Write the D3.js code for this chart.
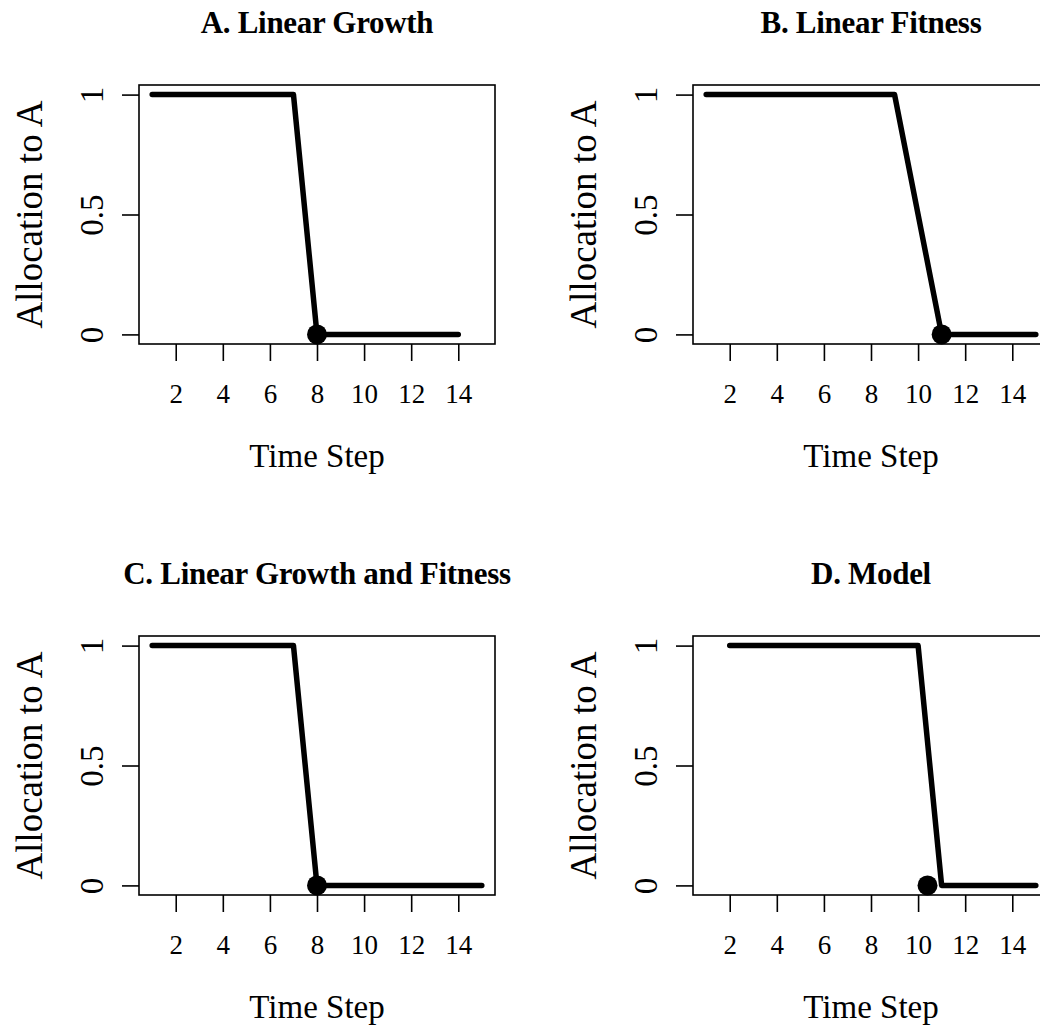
<!DOCTYPE html>
<html>
<head>
<meta charset="utf-8">
<script src="https://cdn.jsdelivr.net/npm/d3@7"></script>
<style>
  html, body { margin: 0; padding: 0; background: #fff; }
  svg { display: block; }
  text { font-family: "Liberation Serif", "Times New Roman", serif; fill: #000; }
</style>
</head>
<body>
<svg id="chart" width="1040" height="1034"></svg>
<script>
// ---- data ----
const titles = ["A. Linear Growth", "B. Linear Fitness", "C. Linear Growth and Fitness", "D. Model"];
const stepsA = [1,2,3,4,5,6,7,8,9,10,11,12,13,14];
const allocA = [1,1,1,1,1,1,1,0,0,0,0,0,0,0];
const stepsB = [1,2,3,4,5,6,7,8,9,10,11,12,13,14,15];
const allocB = [1,1,1,1,1,1,1,1,1,0.5,0,0,0,0,0];
const stepsC = [1,2,3,4,5,6,7,8,9,10,11,12,13,14,15];
const allocC = [1,1,1,1,1,1,1,0,0,0,0,0,0,0,0];
const stepsD = [2,3,4,5,6,7,8,9,10,11,12,13,14,15];
const allocD = [1,1,1,1,1,1,1,1,1,0,0,0,0,0];
const switchX = [8, 11, 8, 10.4];
const switchY = [0, 0, 0, 0];
const xTicks = [2,4,6,8,10,12,14];
const yTicks = [0, 0.5, 1];
const yTickLabels = ["0", "0.5", "1"];
const xLabel = "Time Step";
const yLabel = "Allocation to A";

const panels = [
  {steps: stepsA, alloc: allocA},
  {steps: stepsB, alloc: allocB},
  {steps: stepsC, alloc: allocC},
  {steps: stepsD, alloc: allocD}
];

const svg = d3.select("#chart");
const boxW = 356, boxH = 259;

panels.forEach((p, i) => {
  const col = i % 2, row = Math.floor(i / 2);
  const left = 139 + col * 554;
  const top = 85 + row * 551;
  const g = svg.append("g").attr("transform", `translate(${left},${top})`);

  const x = d3.scaleLinear().domain([0.44, 15.56]).range([0, boxW]);
  const y = d3.scaleLinear().domain([-0.04, 1.04]).range([boxH, 0]);

  // title
  g.append("text")
    .attr("x", boxW / 2).attr("y", -52)
    .attr("text-anchor", "middle")
    .style("font-size", "31px").style("font-weight", "bold")
    .style("letter-spacing", "-0.3px")
    .text(titles[i]);

  // x axis ticks
  const xa = g.append("g").attr("transform", `translate(0,${boxH})`)
    .call(d3.axisBottom(x).tickValues(xTicks).tickSize(17).tickPadding(0).tickFormat(d3.format("d")));
  xa.select(".domain").remove();
  xa.selectAll(".tick line").attr("stroke", "#000").attr("stroke-width", 1.6);
  xa.selectAll(".tick text").attr("y", 59).attr("dy", 0)
    .style("font-size", "27px").style("font-family", "Liberation Serif");

  // y axis ticks
  const ya = g.append("g")
    .call(d3.axisLeft(y).tickValues(yTicks).tickSize(17).tickFormat((d, k) => yTickLabels[k]));
  ya.select(".domain").remove();
  ya.selectAll(".tick line").attr("stroke", "#000").attr("stroke-width", 1.6);
  ya.selectAll(".tick text")
    .attr("x", 0).attr("y", 0).attr("dy", 0)
    .attr("text-anchor", "middle")
    .attr("transform", "translate(-36,0) rotate(-90)")
    .style("font-size", "33px").style("font-family", "Liberation Serif");

  // axis titles
  g.append("text")
    .attr("x", boxW / 2).attr("y", boxH + 123)
    .attr("text-anchor", "middle")
    .style("font-size", "33px")
    .text(xLabel);
  g.append("text")
    .attr("transform", `translate(-97,${y(0.5)}) rotate(-90)`)
    .attr("text-anchor", "middle")
    .style("font-size", "37px")
    .text(yLabel);

  // data line
  const line = d3.line().x((d, k) => x(p.steps[k])).y(d => y(d));
  g.append("path")
    .datum(p.alloc)
    .attr("d", line)
    .attr("fill", "none")
    .attr("stroke", "#000")
    .attr("stroke-width", 5.5)
    .attr("stroke-linecap", "round")
    .attr("stroke-linejoin", "round");

  // switch point
  g.append("circle")
    .attr("cx", x(switchX[i])).attr("cy", y(switchY[i]))
    .attr("r", 10).attr("fill", "#000");

  // box
  g.append("rect")
    .attr("x", 0).attr("y", 0).attr("width", boxW).attr("height", boxH)
    .attr("fill", "none").attr("stroke", "#000").attr("stroke-width", 1.6);
});
</script>
</body>
</html>
